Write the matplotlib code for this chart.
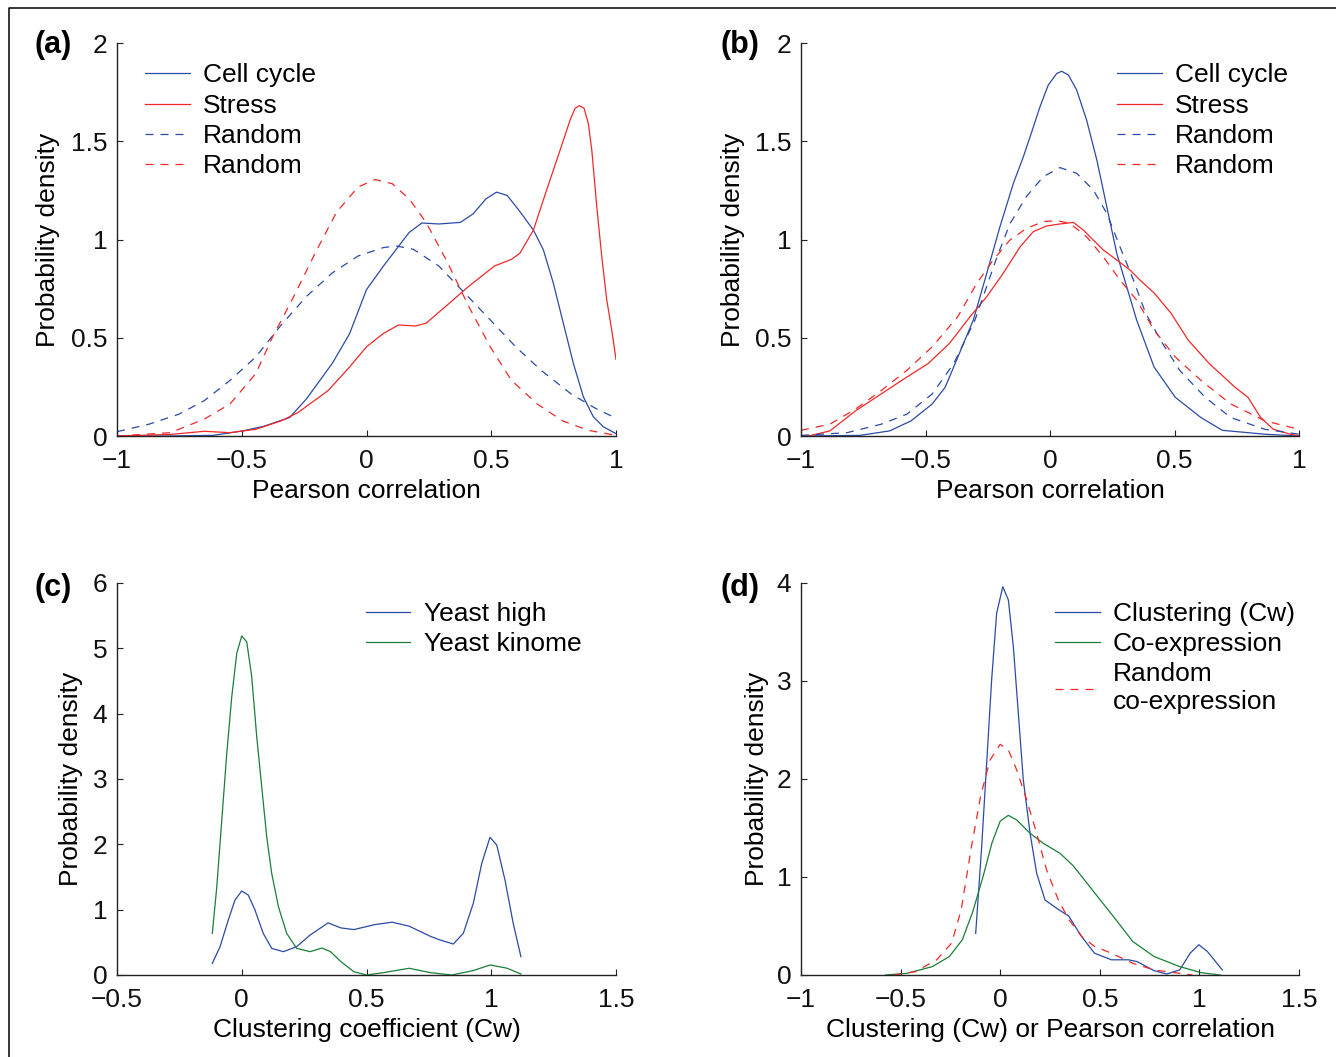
import matplotlib
matplotlib.use('Agg')
import matplotlib.pyplot as plt
from matplotlib.lines import Line2D
from matplotlib.ticker import FuncFormatter

plt.rcParams['font.family'] = ['Liberation Sans', 'DejaVu Sans']

# Colours.
BLUE = '#2b4aa6'
RED = '#f02828'
GREEN = '#1a7f38'
DASH = (0, (6.4, 5.6))

# Panel (a): Pearson correlation densities.
a_cell_x = [-1.0, -0.8, -0.615, -0.496, -0.41, -0.308, -0.24, -0.137, -0.068, 0.0, 0.068,
            0.171, 0.222, 0.29, 0.376, 0.427, 0.479, 0.521, 0.564, 0.615, 0.669, 0.709,
            0.749, 0.789, 0.829, 0.869, 0.909, 0.949, 1.0]
a_cell_y = [0.0, 0.0, 0.003, 0.026, 0.05, 0.094, 0.19, 0.37, 0.52, 0.745, 0.865,
            1.036, 1.084, 1.079, 1.087, 1.13, 1.207, 1.241, 1.224, 1.142, 1.048, 0.947,
            0.777, 0.573, 0.37, 0.2, 0.098, 0.047, 0.012]
a_stress_x = [-1.0, -0.786, -0.65, -0.547, -0.444, -0.342, -0.274, -0.154, -0.068, 0.0,
              0.068, 0.128, 0.197, 0.239, 0.325, 0.41, 0.513, 0.581, 0.615, 0.669, 0.722,
              0.776, 0.816, 0.836, 0.853, 0.872, 0.889, 0.903, 0.923, 0.943, 0.963, 0.983, 1.0]
a_stress_y = [0.0, 0.008, 0.024, 0.017, 0.034, 0.077, 0.12, 0.231, 0.351, 0.454,
              0.522, 0.565, 0.56, 0.574, 0.668, 0.762, 0.865, 0.899, 0.93, 1.048, 1.252,
              1.455, 1.608, 1.668, 1.681, 1.668, 1.591, 1.455, 1.167, 0.912, 0.692, 0.539, 0.39]
a_rand_blue_x = [-1.0, -0.872, -0.752, -0.65, -0.547, -0.444, -0.342, -0.24, -0.137, -0.034,
                 0.068, 0.12, 0.188, 0.29, 0.393, 0.496, 0.598, 0.70, 0.82, 0.923, 1.0]
a_rand_blue_y = [0.022, 0.06, 0.111, 0.18, 0.283, 0.402, 0.565, 0.711, 0.83, 0.916,
                 0.959, 0.967, 0.95, 0.865, 0.728, 0.591, 0.454, 0.334, 0.214, 0.137, 0.091]
a_rand_red_x = [-1.0, -0.786, -0.65, -0.547, -0.444, -0.376, -0.291, -0.205, -0.12, -0.034,
                0.034, 0.103, 0.171, 0.239, 0.325, 0.41, 0.496, 0.581, 0.684, 0.786, 0.889, 1.0]
a_rand_red_y = [0.0, 0.017, 0.086, 0.163, 0.317, 0.505, 0.711, 0.933, 1.139, 1.267,
                1.305, 1.284, 1.207, 1.087, 0.882, 0.659, 0.454, 0.283, 0.163, 0.077, 0.029, 0.003]

# Panel (b): Pearson correlation densities.
b_cell_x = [-1.0, -0.764, -0.644, -0.558, -0.473, -0.421, -0.37, -0.308, -0.254, -0.201,
            -0.147, -0.107, -0.073, -0.04, -0.007, 0.027, 0.047, 0.074, 0.107, 0.147, 0.188,
            0.228, 0.268, 0.308, 0.348, 0.418, 0.503, 0.606, 0.692, 0.863, 1.0]
b_cell_y = [0.0, 0.003, 0.026, 0.077, 0.163, 0.248, 0.402, 0.59, 0.828, 1.065,
            1.286, 1.421, 1.549, 1.676, 1.786, 1.845, 1.856, 1.837, 1.761, 1.608, 1.405,
            1.167, 0.93, 0.76, 0.59, 0.351, 0.197, 0.094, 0.029, 0.009, 0.0]
b_stress_x = [-1.0, -0.97, -0.884, -0.781, -0.678, -0.575, -0.49, -0.404, -0.321, -0.254,
              -0.188, -0.12, -0.067, -0.013, 0.04, 0.094, 0.134, 0.174, 0.214, 0.268, 0.321,
              0.361, 0.418, 0.486, 0.555, 0.64, 0.743, 0.795, 0.846, 0.897, 0.966, 1.0]
b_stress_y = [0.0, 0.0, 0.026, 0.128, 0.214, 0.30, 0.368, 0.471, 0.607, 0.709,
              0.828, 0.963, 1.04, 1.069, 1.079, 1.087, 1.048, 0.997, 0.947, 0.896, 0.845,
              0.794, 0.728, 0.625, 0.488, 0.368, 0.248, 0.197, 0.094, 0.034, 0.009, 0.0]
b_rand_blue_x = [-1.0, -0.815, -0.678, -0.575, -0.473, -0.387, -0.301, -0.216, -0.161, -0.094,
                 -0.027, 0.04, 0.107, 0.174, 0.228, 0.281, 0.335, 0.384, 0.452, 0.521, 0.623,
                 0.726, 0.863, 1.0]
b_rand_blue_y = [0.003, 0.017, 0.06, 0.111, 0.214, 0.368, 0.591, 0.90, 1.08, 1.22,
                 1.32, 1.366, 1.337, 1.252, 1.133, 0.963, 0.794, 0.625, 0.471, 0.334, 0.197,
                 0.094, 0.034, 0.009]
b_rand_red_x = [-1.0, -0.884, -0.781, -0.678, -0.575, -0.473, -0.37, -0.294, -0.228, -0.161,
                -0.094, -0.027, 0.027, 0.08, 0.147, 0.214, 0.281, 0.348, 0.418, 0.503, 0.606,
                0.726, 0.863, 1.0]
b_rand_red_y = [0.029, 0.06, 0.137, 0.231, 0.334, 0.454, 0.608, 0.777, 0.896, 0.997,
                1.057, 1.091, 1.096, 1.082, 1.014, 0.912, 0.794, 0.692, 0.539, 0.402, 0.283,
                0.163, 0.077, 0.034]

# Panel (c): clustering coefficient densities.
c_high_x = [-0.118, -0.087, -0.054, -0.027, 0.0, 0.026, 0.053, 0.086, 0.12, 0.167,
            0.22, 0.274, 0.346, 0.397, 0.449, 0.534, 0.603, 0.671, 0.756, 0.795, 0.848,
            0.888, 0.928, 0.962, 0.995, 1.022, 1.055, 1.088, 1.119]
c_high_y = [0.179, 0.433, 0.842, 1.148, 1.286, 1.224, 0.995, 0.638, 0.408, 0.357,
            0.433, 0.612, 0.798, 0.721, 0.695, 0.772, 0.808, 0.747, 0.592, 0.536, 0.474,
            0.638, 1.097, 1.71, 2.108, 1.99, 1.454, 0.791, 0.28]
c_kinome_x = [-0.118, -0.1, -0.08, -0.06, -0.04, -0.02, 0.0, 0.02, 0.04, 0.06,
              0.08, 0.1, 0.12, 0.147, 0.18, 0.22, 0.274, 0.321, 0.355, 0.397, 0.449,
              0.5, 0.568, 0.671, 0.756, 0.842, 0.927, 0.996, 1.064, 1.119]
c_kinome_y = [0.638, 1.352, 2.373, 3.393, 4.26, 4.924, 5.19, 5.10, 4.566, 3.648,
              2.882, 2.117, 1.556, 1.046, 0.638, 0.408, 0.357, 0.412, 0.36, 0.206, 0.051,
              0.0, 0.036, 0.103, 0.036, 0.0, 0.067, 0.154, 0.103, 0.015]

# Panel (d): clustering vs co-expression densities.
d_clust_x = [-0.123, -0.093, -0.068, -0.043, -0.018, 0.013, 0.041, 0.066, 0.091, 0.116,
             0.15, 0.183, 0.225, 0.284, 0.344, 0.408, 0.473, 0.558, 0.644, 0.687, 0.772,
             0.836, 0.901, 0.954, 0.997, 1.04, 1.115]
d_clust_y = [0.425, 1.31, 2.16, 3.01, 3.69, 3.962, 3.827, 3.35, 2.67, 1.99,
             1.446, 1.038, 0.765, 0.68, 0.601, 0.395, 0.223, 0.155, 0.155, 0.137, 0.045,
             0.01, 0.052, 0.223, 0.309, 0.24, 0.052]
d_coexp_x = [-0.576, -0.469, -0.34, -0.255, -0.19, -0.137, -0.084, -0.041, 0.0, 0.041,
             0.083, 0.15, 0.216, 0.30, 0.366, 0.473, 0.58, 0.665, 0.772, 0.901, 1.008, 1.104]
d_coexp_y = [0.0, 0.017, 0.086, 0.189, 0.36, 0.65, 1.02, 1.35, 1.57, 1.629,
             1.582, 1.446, 1.344, 1.242, 1.116, 0.841, 0.567, 0.343, 0.189, 0.086, 0.024, 0.0]
d_rand_x = [-0.533, -0.426, -0.319, -0.244, -0.196, -0.145, -0.098, -0.051, 0.0, 0.041,
            0.083, 0.133, 0.183, 0.233, 0.291, 0.344, 0.408, 0.473, 0.558, 0.665,
            0.772, 0.901, 0.965]
d_rand_y = [0.0, 0.034, 0.155, 0.326, 0.665, 1.30, 1.83, 2.194, 2.354, 2.296,
            2.092, 1.786, 1.446, 1.071, 0.77, 0.567, 0.395, 0.292, 0.223, 0.12,
            0.052, 0.017, 0.0]

W, H = 1336, 1057
fig = plt.figure(figsize=(W / 100, H / 100), dpi=100)

# Outer frame (only left and top edges are visible in the original).
fig.add_artist(Line2D([8.5 / W, 8.5 / W, 1.0], [0.0, 1 - 7.5 / H, 1 - 7.5 / H],
                      transform=fig.transFigure, color='black', lw=1.1))

FS = 19


def fmt(v, pos):
    return ('%g' % v).replace('-', '\u2212')


def make_axes(px_left, px_right, px_top, px_bottom):
    ax = fig.add_axes([px_left / W, 1 - px_bottom / H,
                       (px_right - px_left) / W, (px_bottom - px_top) / H])
    for side in ('top', 'right'):
        ax.spines[side].set_visible(False)
    for side in ('left', 'bottom'):
        ax.spines[side].set_linewidth(1.0)
        ax.spines[side].set_color('#222222')
    ax.tick_params(direction='in', length=4, width=0.8, labelsize=FS,
                   colors='#222222', labelcolor='#111111')
    ax.tick_params(axis='x', pad=9.5)
    ax.tick_params(axis='y', pad=7)
    ax.xaxis.set_major_formatter(FuncFormatter(fmt))
    ax.yaxis.set_major_formatter(FuncFormatter(fmt))
    return ax


def style_labels(ax, xlabel, ylab_x):
    ax.set_xlabel(xlabel, fontsize=FS)
    ax.set_ylabel('Probability density', fontsize=FS)
    ax.xaxis.set_label_coords(0.5, -0.11)
    ax.yaxis.set_label_coords(ylab_x, 0.5)


legend_kw = dict(frameon=False, fontsize=FS, handlelength=1.7, handletextpad=0.5,
                 labelspacing=0.24, borderpad=0, borderaxespad=0, loc='upper left')
lw = 0.9

# (a)
ax = make_axes(117, 616, 43, 436)
ax.plot(a_cell_x, a_cell_y, color=BLUE, lw=lw, label='Cell cycle')
ax.plot(a_stress_x, a_stress_y, color=RED, lw=lw, label='Stress')
ax.plot(a_rand_blue_x, a_rand_blue_y, color=BLUE, lw=lw, ls=DASH, label='Random')
ax.plot(a_rand_red_x, a_rand_red_y, color=RED, lw=lw, ls=DASH, label='Random')
ax.set_xlim(-1, 1)
ax.set_ylim(0, 2)
ax.set_xticks([-1, -0.5, 0, 0.5, 1])
ax.set_yticks([0, 0.5, 1, 1.5, 2])
style_labels(ax, 'Pearson correlation', -0.114)
ax.legend(bbox_to_anchor=(0.056, 0.948), **legend_kw)

# (b)
ax = make_axes(801, 1299, 43, 436)
ax.plot(b_cell_x, b_cell_y, color=BLUE, lw=lw, label='Cell cycle')
ax.plot(b_stress_x, b_stress_y, color=RED, lw=lw, label='Stress')
ax.plot(b_rand_blue_x, b_rand_blue_y, color=BLUE, lw=lw, ls=DASH, label='Random')
ax.plot(b_rand_red_x, b_rand_red_y, color=RED, lw=lw, ls=DASH, label='Random')
ax.set_xlim(-1, 1)
ax.set_ylim(0, 2)
ax.set_xticks([-1, -0.5, 0, 0.5, 1])
ax.set_yticks([0, 0.5, 1, 1.5, 2])
style_labels(ax, 'Pearson correlation', -0.112)
ax.legend(bbox_to_anchor=(0.635, 0.948), **legend_kw)

# (c)
ax = make_axes(117, 616, 583, 975)
ax.plot(c_high_x, c_high_y, color=BLUE, lw=lw, label='Yeast high')
ax.plot(c_kinome_x, c_kinome_y, color=GREEN, lw=lw, label='Yeast kinome')
ax.set_xlim(-0.5, 1.5)
ax.set_ylim(0, 6)
ax.set_xticks([-0.5, 0, 0.5, 1, 1.5])
ax.set_yticks(range(7))
style_labels(ax, 'Clustering coefficient (Cw)', -0.068)
ax.legend(bbox_to_anchor=(0.498, 0.952), **legend_kw)

# (d)
ax = make_axes(801, 1299, 583, 975)
ax.plot(d_clust_x, d_clust_y, color=BLUE, lw=lw, label='Clustering (Cw)')
ax.plot(d_coexp_x, d_coexp_y, color=GREEN, lw=lw, label='Co-expression')
ax.plot(d_rand_x, d_rand_y, color=RED, lw=lw, ls=DASH, label='Random\nco-expression')
ax.set_xlim(-1, 1.5)
ax.set_ylim(0, 4)
ax.set_xticks([-1, -0.5, 0, 0.5, 1, 1.5])
ax.set_yticks(range(5))
style_labels(ax, 'Clustering (Cw) or Pearson correlation', -0.065)
ax.legend(bbox_to_anchor=(0.51, 0.952), **legend_kw)

# Panel letters
for label, px, py in [('(a)', 34, 45), ('(b)', 720, 45), ('(c)', 34, 588), ('(d)', 720, 588)]:
    fig.text(px / W, 1 - py / H, label, fontsize=22, fontweight='bold',
             ha='left', va='center')

fig.savefig('out.png', dpi=100)
